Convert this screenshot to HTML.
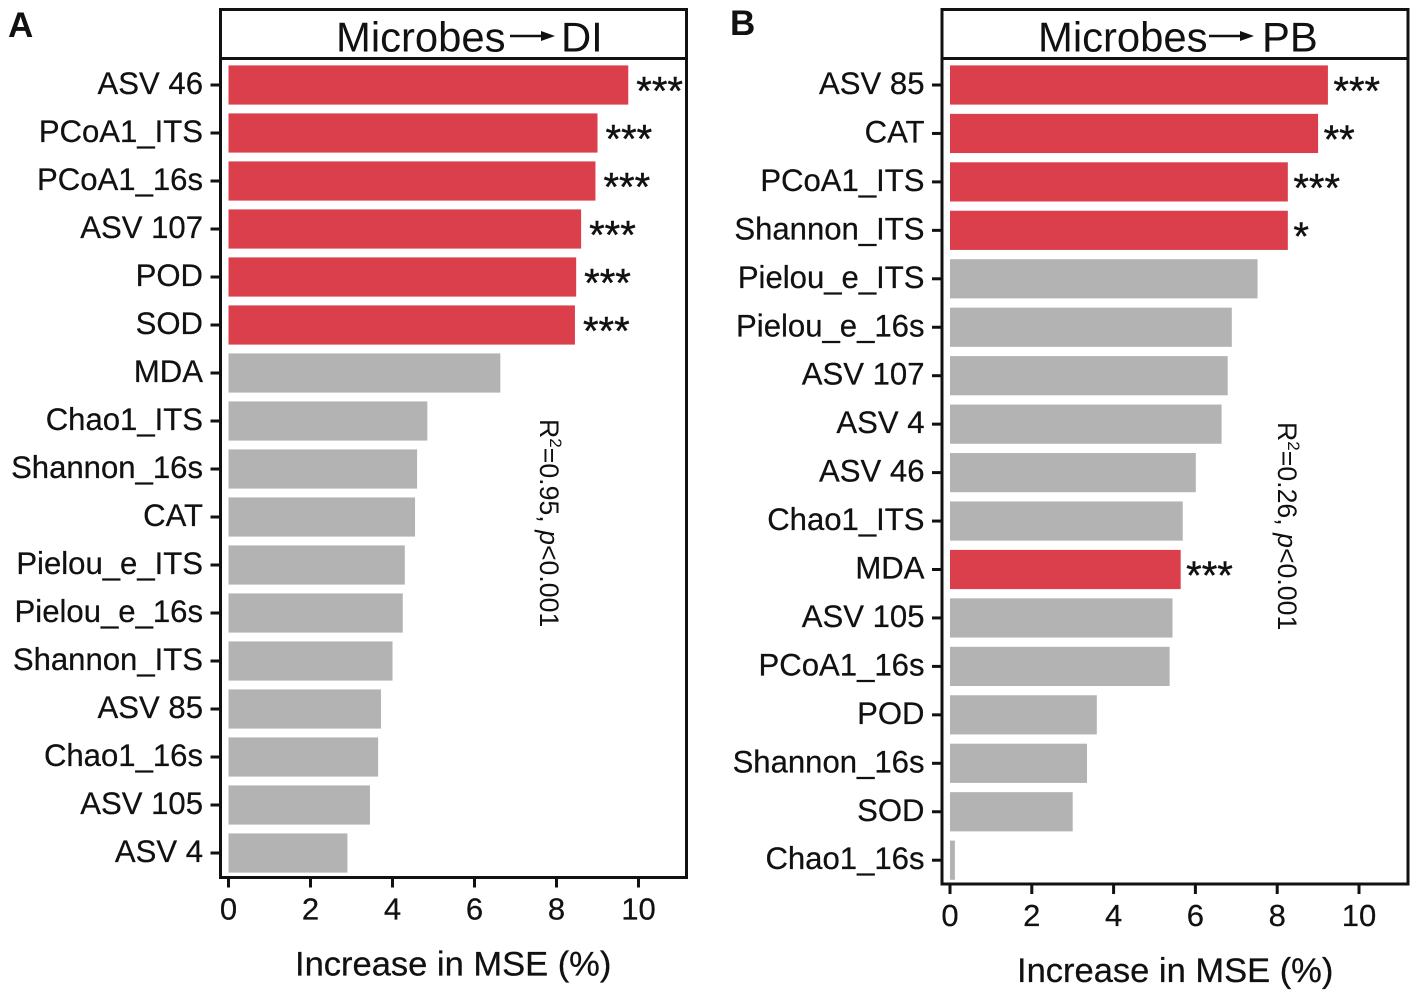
<!DOCTYPE html>
<html lang="en">
<head>
<meta charset="utf-8">
<title>Increase in MSE bar charts</title>
<style>
html,body{margin:0;padding:0;background:#fff;}
svg{display:block;}
text{font-family:"Liberation Sans",Arial,sans-serif;fill:#111;}
</style>
</head>
<body>
<svg id="chart" xmlns="http://www.w3.org/2000/svg" width="1417" height="996" viewBox="0 0 1417 996"></svg>
<script>
const categoriesA = ["ASV 46","PCoA1_ITS","PCoA1_16s","ASV 107","POD","SOD","MDA","Chao1_ITS","Shannon_16s","CAT","Pielou_e_ITS","Pielou_e_16s","Shannon_ITS","ASV 85","Chao1_16s","ASV 105","ASV 4"];
const valuesA = [9.75,9.0,8.95,8.6,8.48,8.45,6.63,4.85,4.6,4.55,4.3,4.25,4.0,3.72,3.65,3.45,2.9];
const starsA = ["***","***","***","***","***","***","","","","","","","","","","",""];

const categoriesB = ["ASV 85","CAT","PCoA1_ITS","Shannon_ITS","Pielou_e_ITS","Pielou_e_16s","ASV 107","ASV 4","ASV 46","Chao1_ITS","MDA","ASV 105","PCoA1_16s","POD","Shannon_16s","SOD","Chao1_16s"];
const valuesB = [9.24,9.0,8.26,8.26,7.52,6.89,6.79,6.64,6.01,5.69,5.64,5.44,5.37,3.59,3.35,3.0,0.12];
const starsB = ["***","**","***","*","","","","","","","***","","","","","",""];

const xTicks = [0,2,4,6,8,10];

const NS = "http://www.w3.org/2000/svg";
const svg = document.getElementById("chart");

function make(tag, attrs, parent, content) {
  const el = document.createElementNS(NS, tag);
  for (const k in attrs) el.setAttribute(k, attrs[k]);
  if (content !== undefined) el.textContent = content;
  (parent || svg).appendChild(el);
  return el;
}

function drawPanel(p) {
  const group = make("g", {}, svg);
  
  

  const xScale = v => p.x0 + v * p.unit;
  const yBand = i => p.firstCenter + i * p.step;

  const letter = make("text", {x: p.letterX, y: p.letterY, "font-size": 35, "font-weight": "bold"}, group, p.letter);
  
  

  p.categories.forEach((name, i) => {
    const c = yBand(i);
    const v = p.values[i];
    const hasStar = p.stars[i] !== "";
    const bar = make("rect", {x: xScale(0), y: c - 19.6, width: xScale(v) - xScale(0), height: 39.2, fill: hasStar ? "#DB3F4C" : "#B3B3B3"}, group);
    
    

    const tick = make("line", {x1: p.left - 10, x2: p.left, y1: c, y2: c, stroke: "#111", "stroke-width": 3}, group);
    
    

    const label = make("text", {x: p.left - 17.5, y: c + 9, "font-size": 31.1, "text-anchor": "end", "stroke": "#111", "stroke-width": 0.25}, group, name);
    
    

    if (hasStar) {
      const star = make("text", {x: xScale(v) + p.starGap, y: c + 19.5, "font-size": 40, "stroke": "#111", "stroke-width": 0.4}, group, p.stars[i]);
      
      
    }
  });

  const frame = make("rect", {x: p.left, y: 9.5, width: p.right - p.left, height: p.bottom - 9.5, fill: "none", stroke: "#111", "stroke-width": 3}, group);
  
  

  const strip = make("line", {x1: p.left, x2: p.right, y1: 58.5, y2: 58.5, stroke: "#111", "stroke-width": 3}, group);
  
  

  const t1 = make("text", {x: p.titleX, y: 51.5, "font-size": 41.8}, group, "Microbes");
  
  

  const shaft = make("line", {x1: p.arrowX, x2: p.arrowX + 36, y1: 36, y2: 36, stroke: "#111", "stroke-width": 2.5}, group);
  
  

  const ax = p.arrowX + 36;
  const head = make("polygon", {points: (ax - 5) + ",31 " + (ax + 9) + ",36 " + (ax - 5) + ",41", fill: "#111"}, group);
  
  

  const t2 = make("text", {x: p.title2X, y: 51.5, "font-size": 41.8}, group, p.target);
  
  

  xTicks.forEach(t => {
    const x = xScale(t);
    const tick = make("line", {x1: x, x2: x, y1: p.bottom, y2: p.bottom + 10, stroke: "#111", "stroke-width": 3}, group);
    
    

    const label = make("text", {x: x, y: p.bottom + 42, "font-size": 31, "text-anchor": "middle", "stroke": "#111", "stroke-width": 0.25}, group, String(t));
    
    
  });

  const xTitle = make("text", {x: (p.xTitleLeft), y: p.bottom + 98, "font-size": 34.5, "stroke": "#111", "stroke-width": 0.25}, group, "Increase in MSE (%)");
  
  

  const note = make("text", {transform: "translate(" + p.noteX + "," + p.noteY + ") rotate(90)", "font-size": 26.7}, group);
  
  
  make("tspan", {}, note, "R");
  make("tspan", {dy: -10, "font-size": 17}, note, "2");
  make("tspan", {dy: 10}, note, "=" + p.r2 + ", ");
  make("tspan", {"font-style": "italic"}, note, "p");
  make("tspan", {}, note, "<0.001");
}

drawPanel({
  id: "microbes-di", letter: "A", letterX: 8, letterY: 37,
  categories: categoriesA, values: valuesA, stars: starsA, starGap: 8,
  left: 220.5, right: 686.5, bottom: 877.5,
  x0: 228.5, unit: 41, firstCenter: 85, step: 48.0,
  titleX: 336, arrowX: 510, title2X: 561, target: "DI",
  xTitleLeft: 295, noteX: 540, noteY: 419, r2: "0.95"
});

drawPanel({
  id: "microbes-pb", letter: "B", letterX: 730, letterY: 35,
  categories: categoriesB, values: valuesB, stars: starsB, starGap: 5.5,
  left: 942, right: 1408, bottom: 884,
  x0: 950, unit: 40.9, firstCenter: 85, step: 48.45,
  titleX: 1038, arrowX: 1209, title2X: 1262, target: "PB",
  xTitleLeft: 1017, noteX: 1278, noteY: 422, r2: "0.26"
});
</script>
</body>
</html>
